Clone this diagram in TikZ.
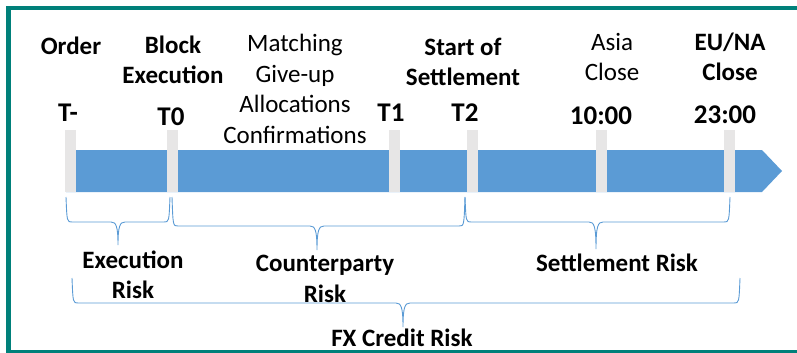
\documentclass[tikz,border=0pt]{standalone}
\usepackage{fontspec}
\setmainfont{Carlito}
\usepackage{xcolor}
\usepackage{tikz}
\usetikzlibrary{calc, positioning}

\definecolor{barblue}{RGB}{91,155,213}
\definecolor{tickgray}{RGB}{231,230,230}
\definecolor{frameteal}{RGB}{0,128,122}

% brace: left x, right x, tip x, top y, middle y, tip y
\newcommand{\riskbrace}[6]{%
  \draw[brace line] (#1,#4) .. controls (#1+1,#5) and (#1+1,#5) .. (#1+6,#5)
    -- (#3-7,#5) .. controls (#3-2,#5) and (#3,#5+4) .. (#3,#6)
    .. controls (#3,#5+4) and (#3+2,#5) .. (#3+7,#5)
    -- (#2-6,#5) .. controls (#2-1,#5) and (#2-1,#5) .. (#2,#4);}

\begin{document}
\begin{tikzpicture}[x=1pt,y=-1pt,
                    plain text/.style={font=\fontsize{25}{30.5}\selectfont,align=center,inner sep=0pt},
                    bold text/.style={plain text,font=\fontsize{25}{30.5}\selectfont\bfseries},
                    time text/.style={plain text,font=\fontsize{27}{30}\selectfont\bfseries},
                    tick box/.style={fill=tickgray,minimum width=11pt,minimum height=62pt,inner sep=0pt},
                    brace line/.style={draw=barblue,line width=0.9pt}]

  \useasboundingbox (0,0) rectangle (797,353);
  % frame, open to the right
  \draw[frameteal,line width=4.5pt,line join=miter] (840,8) -- (8.5,8) -- (8.5,352) -- (840,352);

  % timeline bar
  \fill[barblue] (66,150) -- (762,150) -- (782,171) -- (762,192) -- (66,192) -- cycle;

  \node[tick box] (tminus) at (70.5,161) {};
  \node[tick box] (tzero) at (172.5,161) {};
  \node[tick box] (tone) at (394,161) {};
  \node[tick box] (ttwo) at (472.5,161) {};
  \node[tick box] (tasia) at (601.5,161) {};
  \node[tick box] (teuna) at (729.5,161) {};

  \node[time text] (tminuslbl) at (68,113) {T-};
  \node[time text] (tzerolbl) at (171,117) {T0};
  \node[time text] (tonelbl) at (391,113) {T1};
  \node[time text] (ttwolbl) at (465,113) {T2};
  \node[time text] (tasialbl) at (601,116) {10:00};
  \node[time text] (teunalbl) at (725,115) {23:00};

  \node[bold text] (order) at (71,46) {Order};
  \node[bold text] (block) at (173,60) {Block\\Execution};
  \node[plain text] (matching) at (295,89) {Matching\\Give-up\\Allocations\\Confirmations};
  \node[bold text] (settle) at (463,62) {Start of\\Settlement};
  \node[plain text] (asia) at (612,57) {Asia\\Close};
  \node[bold text] (euna) at (730,57) {EU/NA\\Close};

  \riskbrace{66}{170}{118}{197}{222}{245}
  \riskbrace{172}{465}{317}{197}{226}{250}
  \riskbrace{465}{730}{596}{197}{222}{249}
  \riskbrace{72}{740}{403}{278}{303}{327}

  \node[bold text] (execrisk) at (133,275) {Execution\\Risk};
  \node[bold text] (cprisk) at (325,279) {Counterparty\\Risk};
  \node[bold text] (settlerisk) at (617,263) {Settlement Risk};
  \node[bold text] (fxrisk) at (402,338) {FX Credit Risk};

\end{tikzpicture}
\end{document}
